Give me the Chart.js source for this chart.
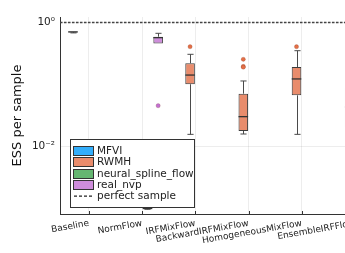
<!DOCTYPE html>
<html><head><meta charset="utf-8">
<script src="https://cdn.jsdelivr.net/npm/chart.js@4.4.1/dist/chart.umd.min.js"></script>
<style>
html,body{margin:0;padding:0;overflow:hidden;background:#fff;width:345px;height:253px}
#wrap{position:relative;width:392px;height:253px}
canvas{display:block}
</style>
</head><body><div id="wrap"><canvas id="c" width="392" height="253"></canvas></div>
<script>
// ---------- data ----------
const categories = ['Baseline','NormFlow','IRFMixFlow','BackwardIRFMixFlow','HomogeneousMixFlow','EnsembleIRFFlow'];
const seriesNames = ['MFVI','RWMH','neural_spline_flow','real_nvp'];
const seriesRGB = ['0,154,250','227,111,71','62,164,78','194,113,210'];
const yTickValues = [0.01, 1];
const yTickLabels = ['10\u207B\u00B2', '10\u2070'];
const perfectSample = 1;
const perfectLabel = 'perfect sample';
const yTitle = 'ESS per sample';

const mfviLow  = [0.680, null, null, null, null, null];
const mfviQ1   = [0.696, null, null, null, null, null];
const mfviMed  = [0.705, null, null, null, null, null];
const mfviQ3   = [0.714, null, null, null, null, null];
const mfviHigh = [0.725, null, null, null, null, null];
const mfviOut  = [[], [], [], [], [], []];

const rwmhLow  = [null, null, 0.0157, 0.0159, 0.0157, 0.0157];
const rwmhQ1   = [null, null, 0.101, 0.0178, 0.067, 0.0206];
const rwmhMed  = [null, null, 0.142, 0.0303, 0.123, 0.0434];
const rwmhQ3   = [null, null, 0.220, 0.0711, 0.191, 0.088];
const rwmhHigh = [null, null, 0.307, 0.114, 0.351, 0.20];
const rwmhOut  = [[], [], [0.407], [0.255, 0.196, 0.190], [0.407], []];

const nsfLow   = [null, 0.00097, null, null, null, null];
const nsfQ1    = [null, 0.00099, null, null, null, null];
const nsfMed   = [null, 0.00100, null, null, null, null];
const nsfQ3    = [null, 0.00101, null, null, null, null];
const nsfHigh  = [null, 0.00103, null, null, null, null];
const nsfOut   = [[], [], [], [], [], []];

const nvpLow   = [null, 0.46, null, null, null, null];
const nvpQ1    = [null, 0.46, null, null, null, null];
const nvpMed   = [null, 0.57, null, null, null, null];
const nvpQ3    = [null, 0.59, null, null, null, null];
const nvpHigh  = [null, 0.67, null, null, null, null];
const nvpOut   = [[], [0.0455], [], [], [], []];

// ---------- assembly ----------
const series = [
  {low:mfviLow, q1:mfviQ1, med:mfviMed, q3:mfviQ3, high:mfviHigh, out:mfviOut},
  {low:rwmhLow, q1:rwmhQ1, med:rwmhMed, q3:rwmhQ3, high:rwmhHigh, out:rwmhOut},
  {low:nsfLow,  q1:nsfQ1,  med:nsfMed,  q3:nsfQ3,  high:nsfHigh,  out:nsfOut},
  {low:nvpLow,  q1:nvpQ1,  med:nvpMed,  q3:nvpQ3,  high:nvpHigh,  out:nvpOut}
];
series.forEach(s => { s.idx = s.q1.map((v,i)=> v==null?null:i).filter(v=>v!==null); });

const xPos = categories.map((c,i)=>i+0.5);
const X_MIN = -0.044, X_MAX = categories.length + 0.044;
const CAT_PCT = 0.8, BAR_PCT = 0.9;
const groupOffset = k => ((k + 0.5) / series.length - 0.5) * CAT_PCT;

const datasets = [];
series.forEach((s,k)=>{
  datasets.push({
    type:'bar', label: seriesNames[k],
    data: s.idx.map(i => ({x: xPos[i], y: [s.q1[i], s.q3[i]]})),
    backgroundColor: `rgba(${seriesRGB[k]},0.8)`,
    borderColor: '#3d3d3d', borderWidth: 1, borderSkipped: false,
    categoryPercentage: CAT_PCT, barPercentage: BAR_PCT, grouped: true, order: 2
  });
});
series.forEach((s,k)=>{
  const pts = [];
  s.out.forEach((arr,i)=> arr.forEach(v => pts.push({x: xPos[i] + groupOffset(k), y: v})));
  datasets.push({
    type:'scatter', label: seriesNames[k] + ' outliers', data: pts,
    pointRadius: 2.1, pointBackgroundColor: `rgb(${seriesRGB[k]})`,
    pointBorderColor: 'rgba(120,50,30,0.35)', pointBorderWidth: 0.6, order: 1
  });
});
datasets.push({
  type:'line', label: perfectLabel,
  data: [{x: X_MIN, y: perfectSample}, {x: X_MAX, y: perfectSample}],
  borderColor: '#444', borderWidth: 1.4, borderDash: [2.5, 1.5], pointRadius: 0, order: 0
});

const FONT = "'DejaVu Sans', sans-serif";

const whiskerPlugin = {
  id: 'whiskers',
  afterDatasetsDraw(chart){
    const {ctx, chartArea:a} = chart; const ys = chart.scales.y;
    ctx.save();
    ctx.beginPath(); ctx.rect(a.left, a.top, a.right-a.left, a.bottom-a.top); ctx.clip();
    const line = (x1,y1,x2,y2) => { ctx.beginPath(); ctx.moveTo(x1,y1); ctx.lineTo(x2,y2); ctx.stroke(); };
    series.forEach((s,k)=>{
      const meta = chart.getDatasetMeta(k);
      s.idx.forEach((ci,j)=>{
        const bar = meta.data[j]; if (!bar) return;
        const cx = Math.round(bar.x) + 0.5, w = bar.width;
        ctx.strokeStyle = '#4a4a4a'; ctx.lineWidth = 1;
        const pQ3 = ys.getPixelForValue(s.q3[ci]), pQ1 = ys.getPixelForValue(s.q1[ci]);
        const pH = ys.getPixelForValue(s.high[ci]), pL = ys.getPixelForValue(s.low[ci]);
        if (pH < pQ3 - 0.5) { line(cx, pQ3, cx, pH); line(cx - w*0.32, pH, cx + w*0.32, pH); }
        if (pL > pQ1 + 0.5) { line(cx, pQ1, cx, pL); line(cx - w*0.32, pL, cx + w*0.32, pL); }
        ctx.strokeStyle = '#333'; ctx.lineWidth = 1.3;
        const pM = ys.getPixelForValue(s.med[ci]);
        line(bar.x - w/2, pM, bar.x + w/2, pM);
      });
    });
    // inward x tick marks
    const xs = chart.scales.x;
    ctx.strokeStyle = '#333'; ctx.lineWidth = 1;
    xPos.forEach(v => { const px = Math.round(xs.getPixelForValue(v)) + 0.5; line(px, a.bottom, px, a.bottom - 3); });
    ctx.restore();
  }
};

const legendPlugin = {
  id: 'boxLegend',
  afterDraw(chart){
    const {ctx, chartArea:a} = chart;
    const lx = a.left + 10, lw = 124, lh = 68, ly = a.bottom - 7 - lh;
    ctx.save();
    ctx.fillStyle = '#fff'; ctx.fillRect(lx, ly, lw, lh);
    ctx.strokeStyle = '#333'; ctx.lineWidth = 1;
    ctx.strokeRect(Math.round(lx)+0.5, Math.round(ly)+0.5, lw, lh);
    ctx.font = `10.5px ${FONT}`; ctx.textBaseline = 'middle'; ctx.fillStyle = '#222';
    const rowH = 11.4, y0 = ly + 11.5;
    seriesNames.forEach((n,k)=>{
      const cy = y0 + k*rowH;
      ctx.fillStyle = `rgba(${seriesRGB[k]},0.8)`;
      ctx.fillRect(lx + 3.5, Math.round(cy - 4.5) + 0.5, 20, 9);
      ctx.strokeStyle = '#333';
      ctx.strokeRect(lx + 3.5, Math.round(cy - 4.5) + 0.5, 20, 9);
      ctx.fillStyle = '#222';
      ctx.fillText(n, lx + 27, cy + 0.5);
    });
    const cy = y0 + 4*rowH;
    ctx.strokeStyle = '#222'; ctx.lineWidth = 1.2; ctx.setLineDash([3,2]);
    ctx.beginPath(); ctx.moveTo(lx + 4, cy); ctx.lineTo(lx + 24, cy); ctx.stroke();
    ctx.setLineDash([]);
    ctx.fillText(perfectLabel, lx + 27, cy + 0.5);
    ctx.restore();
  }
};

new Chart(document.getElementById('c'), {
  data: { datasets },
  options: {
    responsive: false, animation: false, devicePixelRatio: 1,
    layout: { padding: { top: 17, right: 8, left: 0, bottom: 0 } },
    plugins: { legend: { display: false }, tooltip: { enabled: false } },
    scales: {
      x: {
        type: 'linear', min: X_MIN, max: X_MAX, position: 'bottom', offset: false,
        afterBuildTicks: sc => { sc.ticks = xPos.map(v => ({value: v})); },
        afterFit: sc => { sc.height = 39; },
        ticks: {
          callback: (v, i) => categories[i], minRotation: 10, maxRotation: 10,
          autoSkip: false, font: { family: FONT, size: 9 }, color: '#222', padding: 4
        },
        grid: { color: 'rgba(0,0,0,0.07)', drawTicks: false, offset: false },
        border: { display: true, color: '#333', width: 1 }
      },
      y: {
        type: 'logarithmic', min: Math.pow(10, -3.089), max: Math.pow(10, 0.089),
        afterBuildTicks: sc => { sc.ticks = yTickValues.map(v => ({value: v})); },
        afterFit: sc => { sc.width = 60; },
        ticks: {
          callback: v => { const i = yTickValues.indexOf(v); return i >= 0 ? yTickLabels[i] : ''; },
          font: { family: FONT, size: 10.5 }, color: '#222', padding: 5
        },
        grid: { color: 'rgba(0,0,0,0.07)', drawTicks: false },
        border: { display: true, color: '#333', width: 1 },
        title: { display: true, text: yTitle, font: { family: FONT, size: 13 }, color: '#111', padding: { top: 10, bottom: 0 } }
      }
    }
  },
  plugins: [whiskerPlugin, legendPlugin]
});
</script>
</body></html>
